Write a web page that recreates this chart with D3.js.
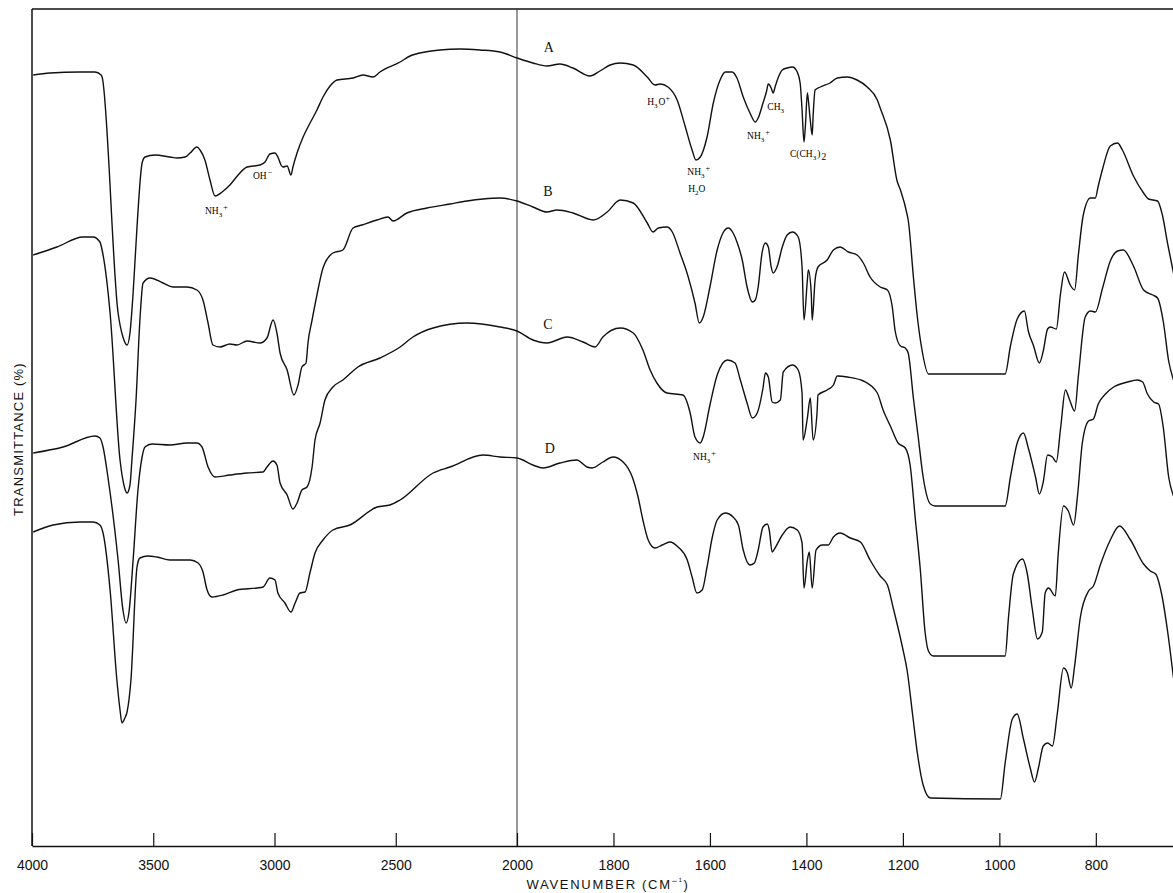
<!DOCTYPE html>
<html>
<head>
<meta charset="utf-8">
<script src="https://cdn.jsdelivr.net/npm/d3@7"></script>
<style>
  body { margin: 0; background: #fff; }
  svg { display: block; }
</style>
</head>
<body>
<div class="canvas"></div>
<script>
// tick labels on the wavenumber axis (cm-1)
const tickValues = [4000, 3500, 3000, 2500, 2000, 1800, 1600, 1400, 1200, 1000, 800];

// spectra: [wavenumber, transmittance] (traces are offset, no y ticks)
const traceA = [
  [3995, 77.1], [3926, 77.3], [3802, 77.4], [3740, 77.4], [3715, 77.1], [3711, 76.9],
  [3645, 53.3], [3625, 50.9], [3608, 50.1], [3596, 51.3], [3583, 55.3], [3567, 61.9],
  [3546, 68.3], [3534, 68.9], [3493, 69.1], [3431, 68.9], [3402, 68.8], [3369, 68.9],
  [3348, 69.3], [3320, 69.9], [3307, 69.6], [3287, 68.6], [3266, 66.6], [3245, 65.0],
  [3216, 65.4], [3184, 66.1], [3150, 67.1], [3113, 67.9], [3060, 68.1], [3039, 68.4],
  [3019, 69.2], [2998, 69.3], [2986, 68.9], [2973, 68.1], [2965, 67.9], [2948, 68.0],
  [2932, 67.1], [2924, 67.9], [2907, 69.3], [2882, 70.9], [2862, 71.9], [2825, 73.6],
  [2800, 74.9], [2771, 76.0], [2742, 76.6], [2676, 76.8], [2635, 77.1], [2594, 76.9],
  [2565, 77.4], [2482, 78.4], [2441, 79.0], [2379, 79.4], [2318, 79.6], [2235, 79.7],
  [2153, 79.6], [2070, 79.4], [2000, 78.8], [1967, 78.3], [1938, 78.0], [1911, 78.2],
  [1884, 77.8], [1849, 77.0], [1828, 77.5], [1807, 78.1], [1786, 78.3], [1759, 78.1],
  [1730, 76.9], [1714, 76.1], [1703, 76.2], [1687, 75.9], [1668, 74.6], [1651, 71.9],
  [1637, 69.6], [1629, 68.6], [1620, 68.9], [1606, 70.9], [1593, 74.3], [1579, 76.6],
  [1568, 77.4], [1554, 77.4], [1544, 76.8], [1531, 74.9], [1517, 73.3], [1506, 72.4],
  [1500, 72.8], [1490, 74.3], [1483, 75.4], [1479, 76.2], [1473, 75.8], [1469, 75.3],
  [1465, 75.9], [1458, 76.9], [1450, 77.6], [1440, 77.8], [1429, 77.9], [1419, 77.4],
  [1413, 76.3], [1409, 73.6], [1405, 70.4], [1402, 72.1], [1398, 75.3], [1396, 74.6],
  [1392, 72.6], [1388, 71.1], [1386, 73.1], [1382, 75.6], [1371, 75.9], [1351, 76.3],
  [1336, 76.8], [1315, 76.9], [1295, 76.6], [1274, 75.9], [1253, 74.6], [1247, 73.8],
  [1226, 70.6], [1212, 66.5], [1205, 65.6], [1191, 63.1], [1189, 62.6], [1178, 56.8],
  [1170, 52.9], [1160, 49.5], [1147, 47.2], [988, 47.2], [977, 50.0], [963, 52.7],
  [948, 53.5], [940, 51.5], [929, 50.0], [917, 48.3], [909, 49.5], [900, 51.7],
  [894, 51.9], [882, 51.7], [873, 55.3], [865, 57.4], [853, 56.1], [844, 55.6],
  [836, 59.2], [826, 63.1], [811, 64.8], [801, 64.8], [795, 66.0], [786, 67.7],
  [770, 70.0], [755, 70.3], [745, 69.6], [722, 67.0], [701, 65.3], [691, 64.7],
  [672, 64.5], [662, 63.1], [651, 60.2], [639, 57.3]
];

const traceB = [
  [3995, 59.1], [3897, 59.9], [3790, 60.9], [3748, 60.9], [3720, 60.4], [3711, 59.6],
  [3678, 53.3], [3637, 38.6], [3621, 36.1], [3608, 35.3], [3596, 36.1], [3588, 38.6],
  [3571, 44.6], [3555, 52.6], [3542, 56.3], [3513, 56.8], [3460, 56.3], [3419, 55.9],
  [3361, 55.9], [3320, 55.6], [3295, 54.6], [3274, 52.3], [3254, 50.1], [3225, 49.9],
  [3184, 50.2], [3155, 50.1], [3113, 50.5], [3060, 50.3], [3031, 50.8], [3006, 52.6],
  [2990, 51.3], [2977, 49.3], [2948, 47.6], [2920, 45.1], [2903, 46.1], [2887, 47.9],
  [2870, 48.3], [2862, 50.3], [2845, 52.6], [2825, 55.1], [2800, 57.8], [2759, 59.3],
  [2718, 59.6], [2676, 61.8], [2639, 62.1], [2577, 62.6], [2532, 62.9], [2511, 62.5],
  [2454, 63.3], [2371, 63.8], [2276, 64.2], [2206, 64.5], [2140, 64.7], [2070, 64.8],
  [2000, 64.5], [1967, 63.9], [1938, 63.4], [1917, 63.6], [1884, 63.3], [1842, 62.6],
  [1813, 63.4], [1786, 64.6], [1759, 64.3], [1730, 62.3], [1718, 61.4], [1707, 61.8],
  [1689, 61.9], [1678, 61.4], [1662, 59.3], [1645, 56.9], [1631, 54.3], [1622, 52.3],
  [1614, 52.9], [1600, 55.9], [1585, 59.6], [1573, 61.3], [1562, 61.8], [1552, 61.3],
  [1544, 60.4], [1533, 58.6], [1523, 55.9], [1512, 54.4], [1506, 54.6], [1500, 55.9],
  [1492, 59.3], [1485, 60.3], [1479, 59.9], [1473, 57.9], [1469, 57.3], [1461, 57.9],
  [1450, 59.9], [1440, 61.1], [1429, 61.4], [1417, 60.9], [1409, 57.9], [1405, 52.6],
  [1398, 56.6], [1396, 57.6], [1390, 55.3], [1388, 52.6], [1382, 56.6], [1376, 57.9],
  [1357, 58.6], [1344, 59.6], [1330, 59.9], [1313, 59.4], [1295, 59.1], [1282, 58.3],
  [1268, 56.9], [1247, 55.9], [1232, 55.6], [1222, 53.9], [1216, 51.5], [1205, 50.0],
  [1195, 49.8], [1189, 49.3], [1178, 44.7], [1168, 40.8], [1158, 36.9], [1143, 34.2],
  [1133, 34.0], [988, 34.0], [977, 36.9], [963, 40.3], [950, 41.3], [940, 39.8],
  [925, 36.9], [917, 35.2], [909, 36.4], [900, 39.1], [890, 38.9], [882, 38.4],
  [873, 41.8], [863, 45.6], [855, 44.7], [844, 43.5], [836, 47.1], [822, 52.9],
  [811, 53.5], [801, 53.4], [786, 55.8], [770, 58.5], [755, 59.5], [743, 59.6],
  [722, 58.0], [701, 55.6], [682, 55.1], [672, 54.8], [660, 52.4], [649, 48.5],
  [639, 46.6]
];

const traceC = [
  [3995, 39.3], [3872, 39.9], [3740, 41.0], [3720, 40.8], [3707, 39.9], [3687, 36.9],
  [3645, 28.6], [3625, 23.6], [3612, 22.3], [3600, 23.4], [3583, 28.6], [3563, 35.6],
  [3546, 38.9], [3534, 39.9], [3505, 40.2], [3431, 40.1], [3361, 40.3], [3320, 40.3],
  [3299, 39.9], [3274, 37.9], [3245, 36.9], [3184, 37.1], [3113, 37.3], [3047, 37.4],
  [3031, 37.9], [3006, 38.5], [2990, 38.1], [2977, 36.3], [2948, 35.1], [2924, 33.7],
  [2907, 34.3], [2887, 35.6], [2866, 35.9], [2845, 37.9], [2833, 40.6], [2812, 42.3],
  [2792, 44.6], [2759, 45.9], [2718, 46.6], [2656, 47.9], [2565, 48.8], [2482, 49.9],
  [2429, 50.9], [2346, 51.8], [2206, 52.3], [2070, 51.9], [2000, 51.5], [1967, 50.6],
  [1938, 50.3], [1896, 50.9], [1863, 50.4], [1838, 49.9], [1822, 50.9], [1786, 51.8],
  [1759, 51.3], [1739, 49.6], [1724, 47.6], [1710, 46.3], [1689, 45.3], [1656, 45.1],
  [1641, 43.3], [1631, 40.9], [1620, 40.3], [1614, 40.9], [1600, 44.1], [1585, 47.1],
  [1564, 48.6], [1548, 48.3], [1537, 46.6], [1523, 44.3], [1512, 42.8], [1502, 43.3],
  [1490, 45.8], [1485, 47.3], [1479, 46.9], [1471, 44.4], [1465, 44.3], [1454, 44.6],
  [1448, 47.4], [1429, 48.1], [1417, 47.6], [1409, 45.3], [1407, 40.6], [1398, 42.8],
  [1392, 44.8], [1386, 40.6], [1378, 43.3], [1376, 45.1], [1357, 45.6], [1344, 46.1],
  [1336, 47.0], [1315, 46.9], [1282, 46.5], [1253, 45.3], [1241, 43.6], [1226, 42.0],
  [1210, 40.3], [1195, 39.8], [1185, 38.1], [1174, 32.6], [1164, 27.7], [1154, 21.4],
  [1147, 19.5], [1137, 19.0], [988, 19.0], [981, 22.9], [971, 27.2], [952, 28.7],
  [942, 27.2], [932, 23.8], [921, 20.7], [911, 21.4], [905, 25.3], [898, 25.8],
  [884, 25.0], [878, 29.2], [867, 34.0], [857, 33.5], [846, 32.1], [838, 35.0],
  [828, 40.3], [815, 42.5], [805, 42.7], [795, 44.2], [780, 45.2], [763, 45.9],
  [734, 46.4], [714, 46.6], [703, 46.4], [693, 45.2], [680, 44.4], [670, 44.2],
  [660, 41.8], [649, 36.9], [639, 35.0]
];

const traceD = [
  [3995, 31.4], [3913, 32.1], [3802, 32.4], [3748, 32.4], [3720, 32.1], [3707, 31.3],
  [3678, 25.6], [3650, 16.6], [3637, 13.6], [3629, 12.3], [3617, 12.8], [3608, 13.4],
  [3592, 16.6], [3567, 27.9], [3555, 28.8], [3522, 29.0], [3485, 28.9], [3431, 28.6],
  [3348, 28.6], [3315, 28.3], [3295, 27.4], [3278, 25.6], [3258, 24.9], [3212, 25.1],
  [3155, 25.6], [3072, 25.8], [3047, 25.9], [3019, 26.8], [2998, 26.6], [2986, 25.3],
  [2957, 24.3], [2932, 23.4], [2915, 24.3], [2895, 25.3], [2874, 25.4], [2854, 27.3],
  [2833, 29.3], [2800, 30.6], [2759, 31.6], [2689, 32.1], [2577, 33.9], [2524, 34.1],
  [2482, 34.6], [2346, 37.3], [2276, 37.9], [2140, 39.1], [2070, 38.9], [2000, 38.8],
  [1967, 38.1], [1946, 37.8], [1911, 38.3], [1876, 38.6], [1855, 37.9], [1844, 37.8],
  [1822, 38.4], [1801, 38.9], [1780, 38.4], [1761, 36.9], [1749, 34.9], [1739, 32.6],
  [1728, 30.6], [1714, 29.8], [1699, 30.1], [1683, 30.4], [1666, 29.9], [1647, 28.6],
  [1637, 26.9], [1627, 25.3], [1616, 25.6], [1606, 27.9], [1595, 30.9], [1585, 32.6],
  [1568, 33.3], [1552, 32.9], [1541, 32.1], [1531, 29.6], [1517, 28.1], [1508, 28.3],
  [1500, 29.6], [1490, 31.9], [1481, 32.2], [1477, 31.6], [1471, 29.4], [1465, 29.8],
  [1450, 31.1], [1434, 31.9], [1419, 31.6], [1409, 30.3], [1405, 25.8], [1398, 28.6],
  [1394, 29.4], [1388, 25.8], [1380, 29.6], [1367, 30.1], [1355, 30.1], [1344, 30.9],
  [1330, 31.3], [1309, 30.8], [1288, 30.4], [1268, 28.6], [1247, 27.0], [1232, 26.1],
  [1220, 23.8], [1201, 19.9], [1191, 17.5], [1180, 13.2], [1170, 9.3], [1158, 6.1],
  [1143, 4.8], [998, 4.7], [988, 8.3], [973, 12.7], [963, 13.2], [950, 10.7],
  [936, 7.8], [927, 6.4], [919, 7.8], [909, 10.0], [900, 10.3], [890, 10.0],
  [880, 13.2], [867, 17.8], [859, 17.3], [851, 15.8], [844, 18.0], [832, 22.9],
  [815, 25.5], [805, 26.0], [790, 28.2], [770, 30.6], [751, 32.0], [728, 30.6],
  [701, 28.2], [687, 27.5], [676, 27.2], [662, 24.8], [651, 21.4], [639, 16.8]
];

const traceNames = ['A', 'B', 'C', 'D'];
// where each trace letter sits [wavenumber, transmittance]
const nameAnchors = [[1934, 79.4], [1936, 65.0], [1936, 51.7], [1932, 39.3]];

// band assignments: [main, sub, tail, wavenumber, transmittance]
const bandLabels = [
  ['NH', '3', '+', 3287, 63.2],
  ['OH', '', '\u2212', 3089, 66.7],
  ['H', '3', 'O+', 1730, 74.1],
  ['NH', '3', '+', 1647, 67.1],
  ['H', '2', 'O', 1645, 65.4],
  ['NH', '3', '+', 1523, 70.7],
  ['CH', '3', '', 1481, 73.6],
  ['C(CH', '3', ')2', 1434, 68.9],
  ['NH', '3', '+', 1635, 38.6]
];

const width = 1173, height = 893;

const svg = d3.select('.canvas')
  .append('svg')
  .attr('width', width)
  .attr('height', height);

svg.append('rect').attr('width', width).attr('height', height).attr('fill', '#fff');

// the scale changes at 2000 cm-1
const x = d3.scaleLinear()
  .domain([4000, 2000, 640])
  .range([32, 517, 1173]);

const y = d3.scaleLinear()
  .domain([0, 84])
  .range([846, 6]);

const plotTop = y(83.7);

// frame: left and top edges
svg.append('line')
  .attr('x1', x(4000)).attr('x2', x(4000))
  .attr('y1', plotTop).attr('y2', y(0))
  .attr('stroke', '#111').attr('stroke-width', 1.5);
svg.append('line')
  .attr('x1', x(4000)).attr('x2', x(640))
  .attr('y1', plotTop).attr('y2', plotTop)
  .attr('stroke', '#111').attr('stroke-width', 1.5);

// scale break line
svg.append('line')
  .attr('x1', x(2000)).attr('x2', x(2000))
  .attr('y1', plotTop).attr('y2', y(0))
  .attr('stroke', '#333').attr('stroke-width', 1);

// x axis, ticks pointing up into the plot
const xAxis = d3.axisBottom(x)
  .tickValues(tickValues)
  .tickSizeInner(-13)
  .tickSizeOuter(0)
  .tickPadding(14)
  .tickFormat(d3.format('d'));

const xAxisGroup = svg.append('g')
  .attr('transform', `translate(0, ${y(0)})`)
  .call(xAxis);

xAxisGroup.select('.domain').attr('stroke', '#111').attr('stroke-width', 1.5);
xAxisGroup.selectAll('.tick line').attr('stroke', '#111').attr('stroke-width', 1.2);
xAxisGroup.selectAll('.tick text')
  .attr('fill', '#111')
  .style('font-family', '"Liberation Sans", Arial, sans-serif')
  .style('font-size', '14px');

// axis titles
const title = svg.append('text')
  .attr('x', 608).attr('y', 889)
  .attr('text-anchor', 'middle')
  .attr('fill', '#111')
  .style('font-family', '"Liberation Sans", Arial, sans-serif')
  .style('font-size', '13px')
  .style('letter-spacing', '1.7px');
title.append('tspan').text('WAVENUMBER (CM');
title.append('tspan').attr('dy', -5).style('font-size', '9px').text('\u2212\u00b9');
title.append('tspan').attr('dy', 5).text(')');

svg.append('text')
  .attr('transform', 'translate(23, 439) rotate(-90)')
  .attr('text-anchor', 'middle')
  .attr('fill', '#111')
  .style('font-family', '"Liberation Sans", Arial, sans-serif')
  .style('font-size', '13px')
  .style('letter-spacing', '1.2px')
  .text('TRANSMITTANCE (%)');

// spectra
const line = d3.line()
  .x(d => x(d[0]))
  .y(d => y(d[1]))
  .curve(d3.curveMonotoneX);

svg.selectAll('path.trace')
  .data([traceA, traceB, traceC, traceD])
  .enter()
  .append('path')
  .attr('class', 'trace')
  .attr('d', line)
  .attr('fill', 'none')
  .attr('stroke', '#111')
  .attr('stroke-width', 1.4)
  .attr('stroke-linejoin', 'round');

// trace letters
svg.selectAll('text.name')
  .data(traceNames)
  .enter()
  .append('text')
  .attr('class', 'name')
  .attr('x', (d, i) => x(nameAnchors[i][0]))
  .attr('y', (d, i) => y(nameAnchors[i][1]))
  .attr('text-anchor', 'middle')
  .attr('fill', '#111')
  .style('font-family', '"Liberation Serif", "Times New Roman", serif')
  .style('font-size', '14px')
  .text(d => d);

// band labels with sub/superscripts
const bands = svg.selectAll('text.band')
  .data(bandLabels)
  .enter()
  .append('text')
  .attr('class', 'band')
  .attr('x', d => x(d[3]))
  .attr('y', d => y(d[4]))
  .attr('fill', '#000')
  .style('font-family', '"Liberation Serif", "Times New Roman", serif')
  .style('font-size', '9.5px');

bands.each(function(d) {
  const t = d3.select(this);
  t.append('tspan').text(d[0]);
  if (d[1]) {
    t.append('tspan').attr('dy', 3).style('font-size', '7px').text(d[1]);
  }
  const back = d[1] ? -3 : 0;
  if (d[2] === 'O+') {
    t.append('tspan').attr('dy', back).attr('dx', 1).text('O');
    t.append('tspan').attr('dy', -4).style('font-size', '8px').text('+');
  } else if (d[2] === ')2') {
    t.append('tspan').attr('dy', back).attr('dx', 1).text(')');
    t.append('tspan').attr('dy', 3).attr('dx', 1).text('2');
  } else if (d[2] === 'O') {
    t.append('tspan').attr('dy', back).text('O');
  } else if (d[2]) {
    t.append('tspan').attr('dy', back - 4).attr('dx', 1).style('font-size', '8px').text(d[2]);
  }
});
</script>
</body>
</html>
